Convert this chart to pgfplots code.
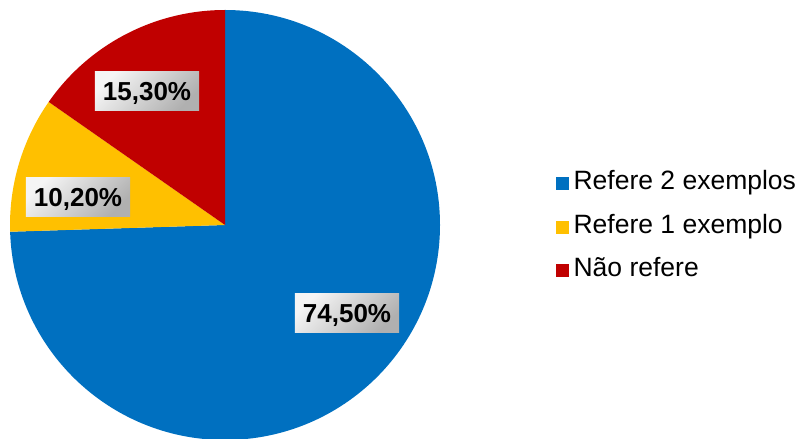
\documentclass[border=0pt]{standalone}
\usepackage{pgfplots}
\pgfplotsset{compat=1.18}
\usepackage{pgfplotstable}
\usepackage{fontspec}
\setmainfont{Liberation Sans}
\definecolor{cblue}{HTML}{0070C0}
\definecolor{cyel}{HTML}{FFC000}
\definecolor{cred}{HTML}{C00000}
\pgfplotstableread{
share lx ly
74.5 347 126
10.2 78 242
15.3 147 348
}\piedata
\begin{document}
\begin{tikzpicture}
\pgfplotstablegetelem{0}{share}\of\piedata \edef\sA{\pgfplotsretval}
\pgfplotstablegetelem{1}{share}\of\piedata \edef\sB{\pgfplotsretval}
\pgfplotstablegetelem{2}{share}\of\piedata \edef\sC{\pgfplotsretval}
\pgfplotstablegetelem{0}{lx}\of\piedata \edef\xA{\pgfplotsretval}
\pgfplotstablegetelem{1}{lx}\of\piedata \edef\xB{\pgfplotsretval}
\pgfplotstablegetelem{2}{lx}\of\piedata \edef\xC{\pgfplotsretval}
\pgfplotstablegetelem{0}{ly}\of\piedata \edef\yA{\pgfplotsretval}
\pgfplotstablegetelem{1}{ly}\of\piedata \edef\yB{\pgfplotsretval}
\pgfplotstablegetelem{2}{ly}\of\piedata \edef\yC{\pgfplotsretval}
\pgfmathsetmacro\aA{90-3.6*\sA}
\pgfmathsetmacro\aB{\aA-3.6*\sB}
\pgfmathsetmacro\aC{\aB-3.6*\sC}
\begin{axis}[
  width=801bp, height=439bp, scale only axis,
  xmin=0, xmax=801, ymin=0, ymax=439,
  axis lines=none, clip=false,
  legend style={draw=none, fill=none, font=\fontsize{26.5bp}{26.5bp}\selectfont,
    at={(axis cs:553,212)}, anchor=west, row sep=18.5bp,
    nodes={inner sep=0pt, text height=19bp, text depth=6bp},
    /tikz/every odd column/.style={column sep=5bp}},
  legend cell align=left,
]
\coordinate (bl) at (axis cs:0,0);
\coordinate (tr) at (axis cs:801,439);
\fill[cblue] (axis cs:225,214) -- (axis cs:225,429) arc[start angle=90, end angle=\aA, radius=215] -- cycle;
\fill[cyel] (axis cs:225,214) -- ++(\aA:215bp) arc[start angle=\aA, end angle=\aB, radius=215] -- cycle;
\fill[cred] (axis cs:225,214) -- ++(\aB:215bp) arc[start angle=\aB, end angle=\aC, radius=215] -- cycle;
\addlegendimage{legend image code/.code={\fill[cblue] (0bp,-6bp) rectangle (12bp,6bp);}}
\addlegendentry{Refere 2 exemplos}
\addlegendimage{legend image code/.code={\fill[cyel] (0bp,-6bp) rectangle (12bp,6bp);}}
\addlegendentry{Refere 1 exemplo}
\addlegendimage{legend image code/.code={\fill[cred] (0bp,-6bp) rectangle (12bp,6bp);}}
\addlegendentry{Não refere}
\tikzset{lab/.style={top color=gray!8, bottom color=gray!62, shading angle=45,
  font=\bfseries\fontsize{26bp}{26bp}\selectfont, inner xsep=8bp, minimum height=39bp,
  text height=19bp, text depth=0bp}}
\node[lab] at (axis cs:\xA,\yA) {74,50\%};
\node[lab] at (axis cs:\xB,\yB) {10,20\%};
\node[lab] at (axis cs:\xC,\yC) {15,30\%};
\end{axis}
\pgfresetboundingbox
\useasboundingbox (bl) rectangle (tr);
\end{tikzpicture}
\end{document}
